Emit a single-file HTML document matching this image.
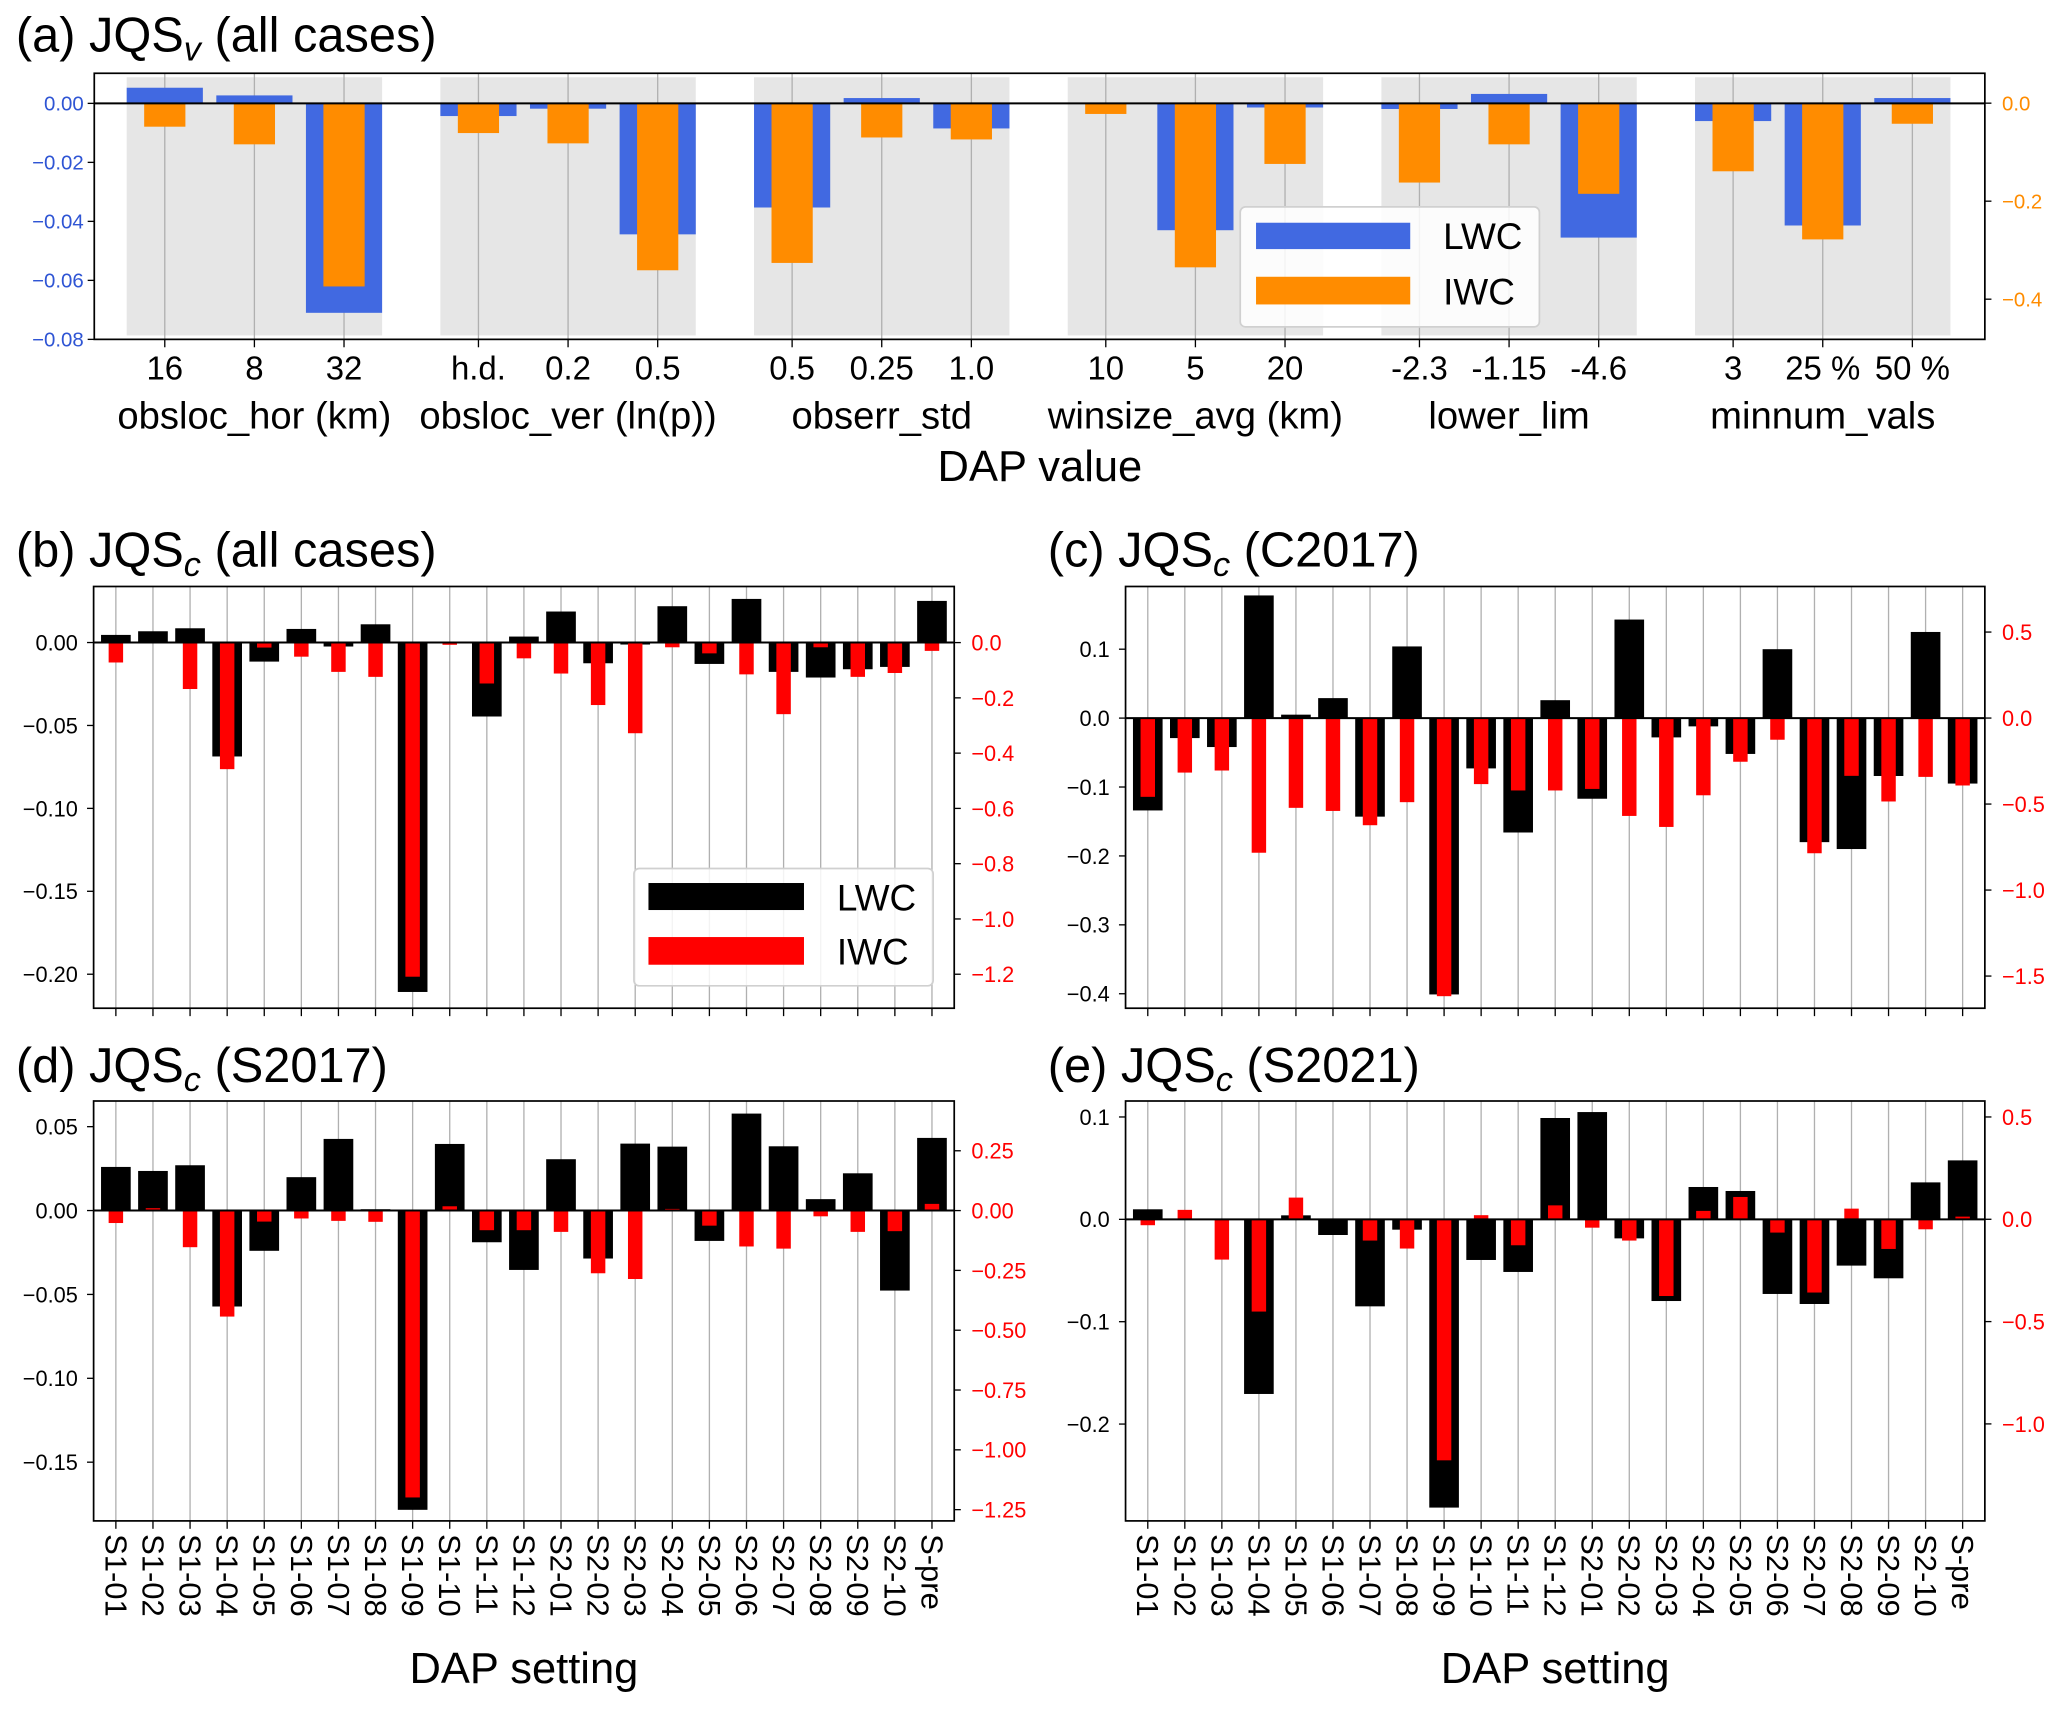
<!DOCTYPE html>
<html><head><meta charset="utf-8"><title>JQS charts</title>
<style>html,body{margin:0;padding:0;background:#fff}svg{display:block;font-family:"Liberation Sans",Arial,sans-serif}</style>
</head><body>
<svg id="fig" width="2067" height="1712" viewBox="0 0 1568.3 1299" xmlns="http://www.w3.org/2000/svg"></svg>
<script>
// ---------- Panel (a) data ----------
const aCats = ['16','8','32','h.d.','0.2','0.5','0.5','0.25','1.0','10','5','20','-2.3','-1.15','-4.6','3','25 %','50 %'];
const aGroups = ['obsloc_hor (km)','obsloc_ver (ln(p))','obserr_std','winsize_avg (km)','lower_lim','minnum_vals'];
const aLWC = [0.0053,0.0027,-0.071,-0.0043,-0.0018,-0.0444,-0.0353,0.0018,-0.0085,-0.0002,-0.043,-0.0014,-0.0019,0.0032,-0.0455,-0.006,-0.0414,0.0018];
const aIWC = [-0.048,-0.084,-0.374,-0.061,-0.082,-0.341,-0.326,-0.070,-0.074,-0.022,-0.335,-0.124,-0.162,-0.084,-0.185,-0.139,-0.278,-0.042];
const aLTicks = [0,-0.02,-0.04,-0.06,-0.08];
const aLTickLabels = ['0.00','\u22120.02','\u22120.04','\u22120.06','\u22120.08'];
const aRTicks = [0,-0.2,-0.4];
const aRTickLabels = ['0.0','\u22120.2','\u22120.4'];

// ---------- Panels (b)-(e) data ----------
const settings = ['S1-01','S1-02','S1-03','S1-04','S1-05','S1-06','S1-07','S1-08','S1-09','S1-10','S1-11','S1-12','S2-01','S2-02','S2-03','S2-04','S2-05','S2-06','S2-07','S2-08','S2-09','S2-10','S-pre'];
const bLWC = [0.0046,0.0068,0.0086,-0.0687,-0.0115,0.0082,-0.0024,0.011,-0.2107,-0.0005,-0.0446,0.0036,0.0187,-0.0125,-0.0012,0.0219,-0.0129,0.0263,-0.0177,-0.0211,-0.0161,-0.0147,0.0251];
const bIWC = [-0.072,-0.003,-0.168,-0.458,-0.018,-0.051,-0.106,-0.124,-1.209,-0.008,-0.148,-0.057,-0.112,-0.226,-0.328,-0.017,-0.039,-0.115,-0.259,-0.017,-0.124,-0.110,-0.030];
const cLWC = [-0.134,-0.029,-0.042,0.178,0.005,0.029,-0.143,0.104,-0.401,-0.073,-0.166,0.026,-0.117,0.143,-0.028,-0.012,-0.052,0.100,-0.180,-0.190,-0.084,0.125,-0.095];
const cIWC = [-0.458,-0.317,-0.305,-0.783,-0.522,-0.540,-0.623,-0.489,-1.617,-0.384,-0.421,-0.421,-0.412,-0.569,-0.633,-0.449,-0.254,-0.126,-0.786,-0.336,-0.485,-0.342,-0.392];
const dLWC = [0.026,0.0236,0.027,-0.0572,-0.024,0.0199,0.0427,0.0008,-0.1784,0.0397,-0.0189,-0.0354,0.0306,-0.0286,0.0399,0.0381,-0.0181,0.0578,0.0383,0.0068,0.0222,-0.0477,0.0433];
const dIWC = [-0.052,0.010,-0.153,-0.443,-0.046,-0.033,-0.043,-0.047,-1.199,0.018,-0.082,-0.082,-0.089,-0.262,-0.286,0.007,-0.063,-0.150,-0.159,-0.024,-0.089,-0.086,0.028];
const eLWC = [0.0098,0,0,-0.1706,0.0039,-0.0153,-0.085,-0.0101,-0.2816,-0.0397,-0.0514,0.099,0.1048,-0.0186,-0.0798,0.0316,0.0277,-0.0729,-0.0827,-0.0452,-0.0576,0.0361,0.0576];
const eIWC = [-0.029,0.046,-0.197,-0.451,0.106,-0.003,-0.104,-0.143,-1.178,0.020,-0.127,0.068,-0.041,-0.104,-0.375,0.041,0.109,-0.065,-0.358,0.052,-0.145,-0.049,0.013];
const bLTicks = [0,-0.05,-0.1,-0.15,-0.2];
const bLTickLabels = ['0.00','\u22120.05','\u22120.10','\u22120.15','\u22120.20'];
const bRTicks = [0,-0.2,-0.4,-0.6,-0.8,-1.0,-1.2];
const bRTickLabels = ['0.0','\u22120.2','\u22120.4','\u22120.6','\u22120.8','\u22121.0','\u22121.2'];
const cLTicks = [0.1,0,-0.1,-0.2,-0.3,-0.4];
const cLTickLabels = ['0.1','0.0','\u22120.1','\u22120.2','\u22120.3','\u22120.4'];
const cRTicks = [0.5,0,-0.5,-1.0,-1.5];
const cRTickLabels = ['0.5','0.0','\u22120.5','\u22121.0','\u22121.5'];
const dLTicks = [0.05,0,-0.05,-0.1,-0.15];
const dLTickLabels = ['0.05','0.00','\u22120.05','\u22120.10','\u22120.15'];
const dRTicks = [0.25,0,-0.25,-0.5,-0.75,-1.0,-1.25];
const dRTickLabels = ['0.25','0.00','\u22120.25','\u22120.50','\u22120.75','\u22121.00','\u22121.25'];
const eLTicks = [0.1,0,-0.1,-0.2];
const eLTickLabels = ['0.1','0.0','\u22120.1','\u22120.2'];
const eRTicks = [0.5,0,-0.5,-1.0];
const eRTickLabels = ['0.5','0.0','\u22120.5','\u22121.0'];

const NS = 'http://www.w3.org/2000/svg';
const svg = document.getElementById('fig');
function mk(parent, tag, attrs, text) {
  const e = document.createElementNS(NS, tag);
  for (const k in attrs) e.setAttribute(k, attrs[k]);
  if (text != null) e.textContent = text;
  parent.appendChild(e);
  return e;
}
function title(x, y, letter, sub, rest, name) {
  const t = mk(svg, 'text', {x: x, y: y, 'font-size': 37, fill: '#000'});
  
  
  mk(t, 'tspan', {}, letter + ' JQS');
  mk(t, 'tspan', {'font-size': 26, 'font-style': 'italic', dy: 7}, sub);
  mk(t, 'tspan', {dy: -7}, ' ' + rest);
}

// ================= Panel (a) =================
(function () {
  const F = {l: 71.5, r: 1506, t: 55.6, b: 257.5};
  const Lmin = -0.08, Lmax = 0.0102, Rmin = -0.482, Rmax = 0.061;
  const step = 68, x0 = 125;
  const yL = v => F.t + (Lmax - v) / (Lmax - Lmin) * (F.b - F.t);
  const yR = v => F.t + (Rmax - v) / (Rmax - Rmin) * (F.b - F.t);
  const xi = i => x0 + (Math.floor(i / 3) * 3.5 + (i % 3)) * step;
  const g = mk(svg, 'g', {});
  
  
  title(12, 39, '(a)', 'v', '(all cases)', 'panel-a-title');
  aGroups.forEach((name, k) => {
    const r = mk(g, 'rect', {x: xi(k * 3) - 0.425 * step, y: F.t + 3, width: xi(k * 3 + 2) - xi(k * 3) + 0.85 * step, height: F.b - F.t - 6, fill: '#e6e6e6'});
    
    
  });
  aCats.forEach((c, i) => {
    const l = mk(g, 'line', {x1: xi(i), x2: xi(i), y1: F.t, y2: F.b, stroke: '#b0b0b0', 'stroke-width': 1});
    
    
  });
  aLWC.forEach((v, i) => {
    const w = 0.85 * step;
    const r = mk(g, 'rect', {x: xi(i) - w / 2, y: Math.min(yL(v), yL(0)), width: w, height: Math.abs(yL(v) - yL(0)), fill: '#4169e1'});
    
    
  });
  aIWC.forEach((v, i) => {
    const w = 0.46 * step;
    const r = mk(g, 'rect', {x: xi(i) - w / 2, y: Math.min(yR(v), yR(0)), width: w, height: Math.abs(yR(v) - yR(0)), fill: '#ff8c00'});
    
    
  });
  const z = mk(g, 'line', {x1: F.l, x2: F.r, y1: yL(0), y2: yL(0), stroke: '#000', 'stroke-width': 1.5});
  
  
  const fr = mk(g, 'rect', {x: F.l, y: F.t, width: F.r - F.l, height: F.b - F.t, fill: 'none', stroke: '#000', 'stroke-width': 1.3});
  
  
  aLTicks.forEach((v, k) => {
    mk(g, 'line', {x1: F.l - 5, x2: F.l, y1: yL(v), y2: yL(v), stroke: '#000', 'stroke-width': 1});
    const t = mk(g, 'text', {x: F.l - 8, y: yL(v) + 5.5, 'font-size': 15.5, fill: '#2f55d4', 'text-anchor': 'end'}, aLTickLabels[k]);
    
    
  });
  aRTicks.forEach((v, k) => {
    mk(g, 'line', {x1: F.r, x2: F.r + 5, y1: yR(v), y2: yR(v), stroke: '#000', 'stroke-width': 1});
    const t = mk(g, 'text', {x: F.r + 13, y: yR(v) + 5.5, 'font-size': 15.5, fill: '#ff8c00'}, aRTickLabels[k]);
    
    
  });
  aCats.forEach((c, i) => {
    mk(g, 'line', {x1: xi(i), x2: xi(i), y1: F.b, y2: F.b + 6, stroke: '#000', 'stroke-width': 1});
    const t = mk(g, 'text', {x: xi(i), y: 288, 'font-size': 25, 'text-anchor': 'middle'}, c);
    
    
  });
  aGroups.forEach((name, k) => {
    const t = mk(g, 'text', {x: xi(k * 3 + 1), y: 325, 'font-size': 29, 'text-anchor': 'middle'}, name);
    
    
  });
  const xt = mk(g, 'text', {x: 789, y: 365, 'font-size': 33, 'text-anchor': 'middle'}, 'DAP value');
  
  
  const lg = mk(g, 'g', {});
  
  
  mk(lg, 'rect', {x: 941, y: 157, width: 227, height: 91, rx: 4, fill: '#fff', 'fill-opacity': 0.85, stroke: '#d0d0d0', 'stroke-width': 1.3});
  const s1 = mk(lg, 'rect', {x: 953, y: 169, width: 117, height: 20, fill: '#4169e1'});
  
  
  const t1 = mk(lg, 'text', {x: 1095, y: 189, 'font-size': 28}, 'LWC');
  
  
  const s2 = mk(lg, 'rect', {x: 953, y: 210, width: 117, height: 21, fill: '#ff8c00'});
  
  
  const t2 = mk(lg, 'text', {x: 1095, y: 231, 'font-size': 28}, 'IWC');
  
  
})();

// ================= Panels (b)-(e) =================
function panel(cfg) {
  const F = cfg.F;
  const yL = v => F.t + (cfg.Lmax - v) / (cfg.Lmax - cfg.Lmin) * (F.b - F.t);
  const yR = v => F.t + (cfg.Rmax - v) / (cfg.Rmax - cfg.Rmin) * (F.b - F.t);
  const step = (F.r - F.l) / 23.2;
  const xi = i => F.l + (i + 0.6) * step;
  const g = mk(svg, 'g', {});
  
  
  title(cfg.tx, cfg.ty, cfg.letter, 'c', cfg.rest, cfg.name + '-title');
  settings.forEach((s, i) => {
    const l = mk(g, 'line', {x1: xi(i), x2: xi(i), y1: F.t, y2: F.b, stroke: '#b0b0b0', 'stroke-width': 1});
    
    
  });
  cfg.lwc.forEach((v, i) => {
    const w = 0.8 * step;
    const r = mk(g, 'rect', {x: xi(i) - w / 2, y: Math.min(yL(v), yL(0)), width: w, height: Math.abs(yL(v) - yL(0)), fill: '#000'});
    
    
  });
  cfg.iwc.forEach((v, i) => {
    const w = 0.39 * step;
    const r = mk(g, 'rect', {x: xi(i) - w / 2, y: Math.min(yR(v), yR(0)), width: w, height: Math.abs(yR(v) - yR(0)), fill: '#ff0000'});
    
    
  });
  const z = mk(g, 'line', {x1: F.l, x2: F.r, y1: yL(0), y2: yL(0), stroke: '#000', 'stroke-width': 1.5});
  
  
  const fr = mk(g, 'rect', {x: F.l, y: F.t, width: F.r - F.l, height: F.b - F.t, fill: 'none', stroke: '#000', 'stroke-width': 1.3});
  
  
  cfg.Lt.forEach((v, k) => {
    mk(g, 'line', {x1: F.l - 5, x2: F.l, y1: yL(v), y2: yL(v), stroke: '#000', 'stroke-width': 1});
    const t = mk(g, 'text', {x: F.l - 12, y: yL(v) + 6, 'font-size': 16.5, 'text-anchor': 'end'}, cfg.Ll[k]);
    
    
  });
  cfg.Rt.forEach((v, k) => {
    mk(g, 'line', {x1: F.r, x2: F.r + 5, y1: yR(v), y2: yR(v), stroke: '#000', 'stroke-width': 1});
    const t = mk(g, 'text', {x: F.r + 13, y: yR(v) + 6, 'font-size': 16.5, fill: '#ff0000'}, cfg.Rl[k]);
    
    
  });
  settings.forEach((s, i) => {
    mk(g, 'line', {x1: xi(i), x2: xi(i), y1: F.b, y2: F.b + 6, stroke: '#000', 'stroke-width': 1});
    if (cfg.xlabels) {
      const t = mk(g, 'text', {x: 0, y: 0, 'font-size': 23.5, transform: 'translate(' + (xi(i) - 8) + ',' + (F.b + 10) + ') rotate(90)'}, s);
      
      
    }
  });
  if (cfg.xlabels) {
    const xt = mk(g, 'text', {x: (F.l + F.r) / 2, y: 1277, 'font-size': 33, 'text-anchor': 'middle'}, 'DAP setting');
    
    
  }
  if (cfg.legend) {
    const lg = mk(g, 'g', {});
    
    
    mk(lg, 'rect', {x: 481, y: 659, width: 227, height: 89, rx: 4, fill: '#fff', 'fill-opacity': 0.85, stroke: '#d0d0d0', 'stroke-width': 1.3});
    const s1 = mk(lg, 'rect', {x: 492, y: 670, width: 118, height: 20.5, fill: '#000'});
    
    
    const t1 = mk(lg, 'text', {x: 635, y: 691, 'font-size': 28}, 'LWC');
    
    
    const s2 = mk(lg, 'rect', {x: 492, y: 711, width: 118, height: 21, fill: '#ff0000'});
    
    
    const t2 = mk(lg, 'text', {x: 635, y: 732, 'font-size': 28}, 'IWC');
    
    
  }
}
panel({name: 'panel-b', letter: '(b)', rest: '(all cases)', tx: 12, ty: 430, F: {l: 71, r: 724, t: 445, b: 765},
  Lmin: -0.2205, Lmax: 0.0338, Rmin: -1.323, Rmax: 0.203, Lt: bLTicks, Ll: bLTickLabels, Rt: bRTicks, Rl: bRTickLabels,
  lwc: bLWC, iwc: bIWC, xlabels: false, legend: true});
panel({name: 'panel-c', letter: '(c)', rest: '(C2017)', tx: 795, ty: 430, F: {l: 854, r: 1506, t: 445, b: 765},
  Lmin: -0.421, Lmax: 0.191, Rmin: -1.687, Rmax: 0.765, Lt: cLTicks, Ll: cLTickLabels, Rt: cRTicks, Rl: cRTickLabels,
  lwc: cLWC, iwc: cIWC, xlabels: false, legend: false});
panel({name: 'panel-d', letter: '(d)', rest: '(S2017)', tx: 12, ty: 821, F: {l: 71, r: 724, t: 835.4, b: 1154},
  Lmin: -0.185, Lmax: 0.0653, Rmin: -1.297, Rmax: 0.458, Lt: dLTicks, Ll: dLTickLabels, Rt: dRTicks, Rl: dRTickLabels,
  lwc: dLWC, iwc: dIWC, xlabels: true, legend: false});
panel({name: 'panel-e', letter: '(e)', rest: '(S2021)', tx: 795, ty: 821, F: {l: 854, r: 1506, t: 835.4, b: 1154},
  Lmin: -0.2946, Lmax: 0.1156, Rmin: -1.474, Rmax: 0.578, Lt: eLTicks, Ll: eLTickLabels, Rt: eRTicks, Rl: eRTickLabels,
  lwc: eLWC, iwc: eIWC, xlabels: true, legend: false});
</script>
</body></html>
